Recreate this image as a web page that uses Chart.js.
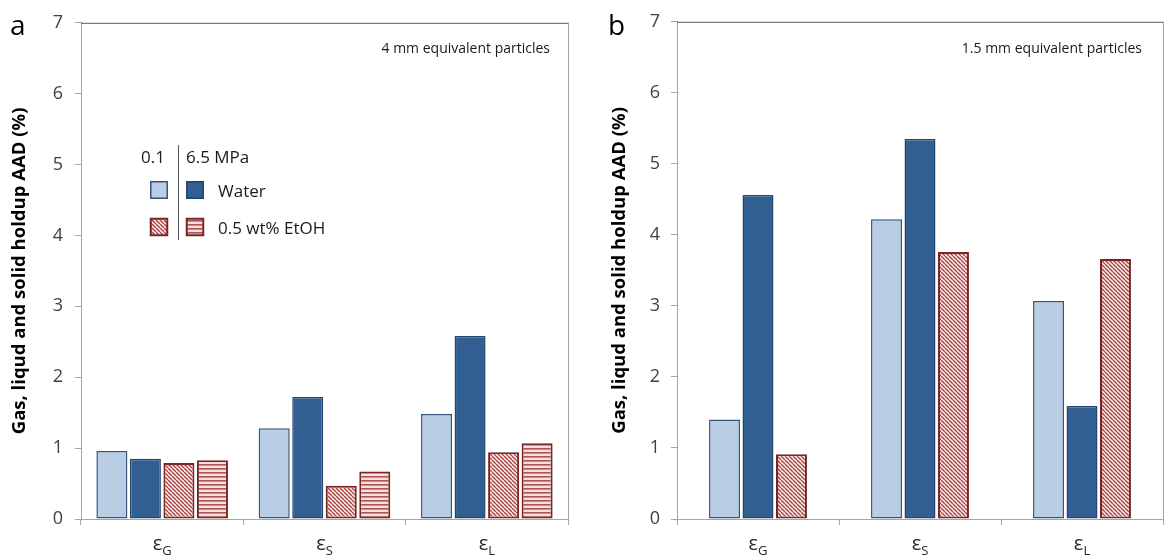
<!DOCTYPE html>
<html>
<head>
<meta charset="utf-8">
<script src="https://cdn.jsdelivr.net/npm/chart.js@4.4.1/dist/chart.umd.min.js"></script>
<style>
  body { margin: 0; background: #fff; }
  .wrap { position: relative; width: 1169px; height: 558px; }
  canvas { position: absolute; top: 0; }
</style>
</head>
<body>
<div class="wrap">
  <canvas id="chartA" width="585" height="558" style="left:0"></canvas>
  <canvas id="chartB" width="584" height="558" style="left:585px"></canvas>
</div>
<script>
// categories (ε + subscript)
const categories = ["εG", "εS", "εL"];
const yTicks = [0, 1, 2, 3, 4, 5, 6, 7];

// panel a: 4 mm particles
const waterLowA = [0.96, 1.28, 1.48];   // 0.1 MPa water
const waterHighA = [0.85, 1.72, 2.58];  // 6.5 MPa water
const etohLowA = [0.79, 0.47, 0.94];    // 0.1 MPa 0.5 wt% EtOH
const etohHighA = [0.83, 0.67, 1.07];   // 6.5 MPa 0.5 wt% EtOH

// panel b: 1.5 mm particles
const waterLowB = [1.40, 4.22, 3.07];
const waterHighB = [4.56, 5.35, 1.59];
const etohLowB = [0.91, 3.76, 3.66];

const FONT = "'Open Sans', sans-serif";

function diagPattern() {
  const c = document.createElement("canvas");
  c.width = c.height = 4;
  const g = c.getContext("2d");
  g.fillStyle = "#f8e8e8";
  g.fillRect(0, 0, 4, 4);
  g.strokeStyle = "#a84545";
  g.lineWidth = 1.3;
  for (const k of [-4, 0, 4]) {
    g.beginPath(); g.moveTo(k, 0); g.lineTo(k + 4, 4); g.stroke();
  }
  return g.createPattern(c, "repeat");
}

function horizPattern() {
  const c = document.createElement("canvas");
  c.width = c.height = 4;
  const g = c.getContext("2d");
  g.fillStyle = "#f6e0e0";
  g.fillRect(0, 0, 4, 4);
  g.fillStyle = "#b05454";
  g.fillRect(0, 0, 4, 1.6);
  return g.createPattern(c, "repeat");
}

const diag = diagPattern();
const horiz = horizPattern();

const styles = {
  waterLow:  { backgroundColor: "#b9cde5", borderColor: "#34547a", borderWidth: 1.5 },
  waterHigh: { backgroundColor: "#325f92", borderColor: "#24456c", borderWidth: 1.5 },
  etohLow:   { backgroundColor: diag, borderColor: "#7a2626", borderWidth: 2 },
  etohHigh:  { backgroundColor: horiz, borderColor: "#7a2626", borderWidth: 2 }
};

// frame, category labels, panel letter, note, legend
const deco = {
  id: "deco",
  afterDraw(chart, args, opts) {
    const { ctx, chartArea: a, scales: { x } } = chart;
    ctx.save();
    ctx.lineWidth = 1;
    ctx.strokeStyle = "#595959";
    ctx.beginPath(); ctx.moveTo(a.left, a.top + 0.5); ctx.lineTo(a.right + 1, a.top + 0.5); ctx.stroke();
    ctx.strokeStyle = "#a6a6a6";
    ctx.beginPath(); ctx.moveTo(a.right + 0.5, a.top); ctx.lineTo(a.right + 0.5, a.bottom); ctx.stroke();

    // category labels with subscripts
    ctx.fillStyle = "#262626";
    ctx.textBaseline = "alphabetic";
    ctx.textAlign = "left";
    chart.data.labels.forEach((lab, i) => {
      const cx = x.getPixelForValue(i);
      const main = lab[0], sub = lab.slice(1);
      ctx.font = "20px " + FONT;
      const w1 = ctx.measureText(main).width;
      ctx.font = "13px " + FONT;
      const w2 = ctx.measureText(sub).width;
      const x0 = cx - (w1 + w2) / 2;
      ctx.font = "20px " + FONT;
      ctx.fillText(main, x0, 550);
      ctx.font = "13px " + FONT;
      ctx.fillText(sub, x0 + w1, 555);
    });

    ctx.fillStyle = "#000";
    ctx.font = "28px " + FONT;
    ctx.fillText(opts.letter, opts.letterX, 35);

    ctx.fillStyle = "#1a1a1a";
    ctx.font = "14px " + FONT;
    ctx.textAlign = "right";
    ctx.fillText(opts.note, a.right - opts.noteInset, 53);

    if (opts.legend) {
      const ds = chart.data.datasets;
      ctx.textAlign = "left";
      ctx.font = "17px " + FONT;
      ctx.fillStyle = "#1a1a1a";
      ctx.fillText("0.1", 141, 163);
      ctx.fillText("6.5 MPa", 186, 163);
      ctx.fillText("Water", 218, 197);
      ctx.fillText("0.5 wt% EtOH", 218, 234);
      ctx.strokeStyle = "#595959";
      ctx.lineWidth = 1;
      ctx.beginPath(); ctx.moveTo(178.5, 145); ctx.lineTo(178.5, 240); ctx.stroke();
      const box = (d, bx, by) => {
        ctx.fillStyle = d.backgroundColor;
        ctx.fillRect(bx, by, 18, 18);
        ctx.strokeStyle = d.borderColor;
        ctx.lineWidth = d.borderWidth;
        ctx.strokeRect(bx + 0.75, by + 0.75, 16.5, 16.5);
      };
      box(ds[0], 150, 181);
      box(ds[1], 186, 181);
      box(ds[2], 150, 218);
      box(ds[3], 186, 218);
    }
    ctx.restore();
  }
};

function makeChart(id, datasets, o) {
  return new Chart(document.getElementById(id), {
    type: "bar",
    data: {
      labels: categories,
      datasets: datasets.map(d => Object.assign({
        data: d.data,
        borderSkipped: false,
        categoryPercentage: o.catPct,
        barPercentage: 0.925
      }, d.style))
    },
    options: {
      responsive: false,
      animation: false,
      layout: { padding: { left: 0, right: o.padRight, top: 17, bottom: 0 } },
      plugins: {
        legend: { display: false },
        tooltip: { enabled: false },
        deco: o.deco
      },
      scales: {
        x: {
          offset: true,
          grid: { display: true, drawOnChartArea: false, offset: true, tickLength: 6, color: "#a6a6a6" },
          border: { color: "#a6a6a6" },
          ticks: { display: false },
          afterFit: s => { s.height = 39; }
        },
        y: {
          min: 0,
          max: 7,
          afterBuildTicks: s => { s.ticks = yTicks.map(v => ({ value: v })); },
          ticks: { color: "#404040", font: { size: 18, family: FONT }, padding: o.tickPad },
          grid: { drawOnChartArea: false, tickLength: 6, color: "#a6a6a6" },
          border: { color: "#a6a6a6" },
          title: {
            display: true,
            text: "Gas, liqud and solid holdup AAD (%)",
            color: "#000",
            font: { size: 18.5, weight: "bold", family: FONT },
            padding: { top: o.titlePad, bottom: 0 }
          },
          afterFit: s => { s.width = o.axisX; }
        }
      }
    },
    plugins: [deco]
  });
}

makeChart("chartA", [
  { data: waterLowA, style: styles.waterLow },
  { data: waterHighA, style: styles.waterHigh },
  { data: etohLowA, style: styles.etohLow },
  { data: etohHighA, style: styles.etohHigh }
], {
  catPct: 0.826, padRight: 17, tickPad: 12, titlePad: 9, axisX: 81,
  deco: { letter: "a", letterX: 10, note: "4 mm equivalent particles", noteInset: 18, legend: true }
});

makeChart("chartB", [
  { data: waterLowB, style: styles.waterLow },
  { data: waterHighB, style: styles.waterHigh },
  { data: etohLowB, style: styles.etohLow }
], {
  catPct: 0.62, padRight: 6, tickPad: 11, titlePad: 24, axisX: 92,
  deco: { letter: "b", letterX: 23, note: "1.5 mm equivalent particles", noteInset: 21, legend: false }
});
</script>
</body>
</html>
